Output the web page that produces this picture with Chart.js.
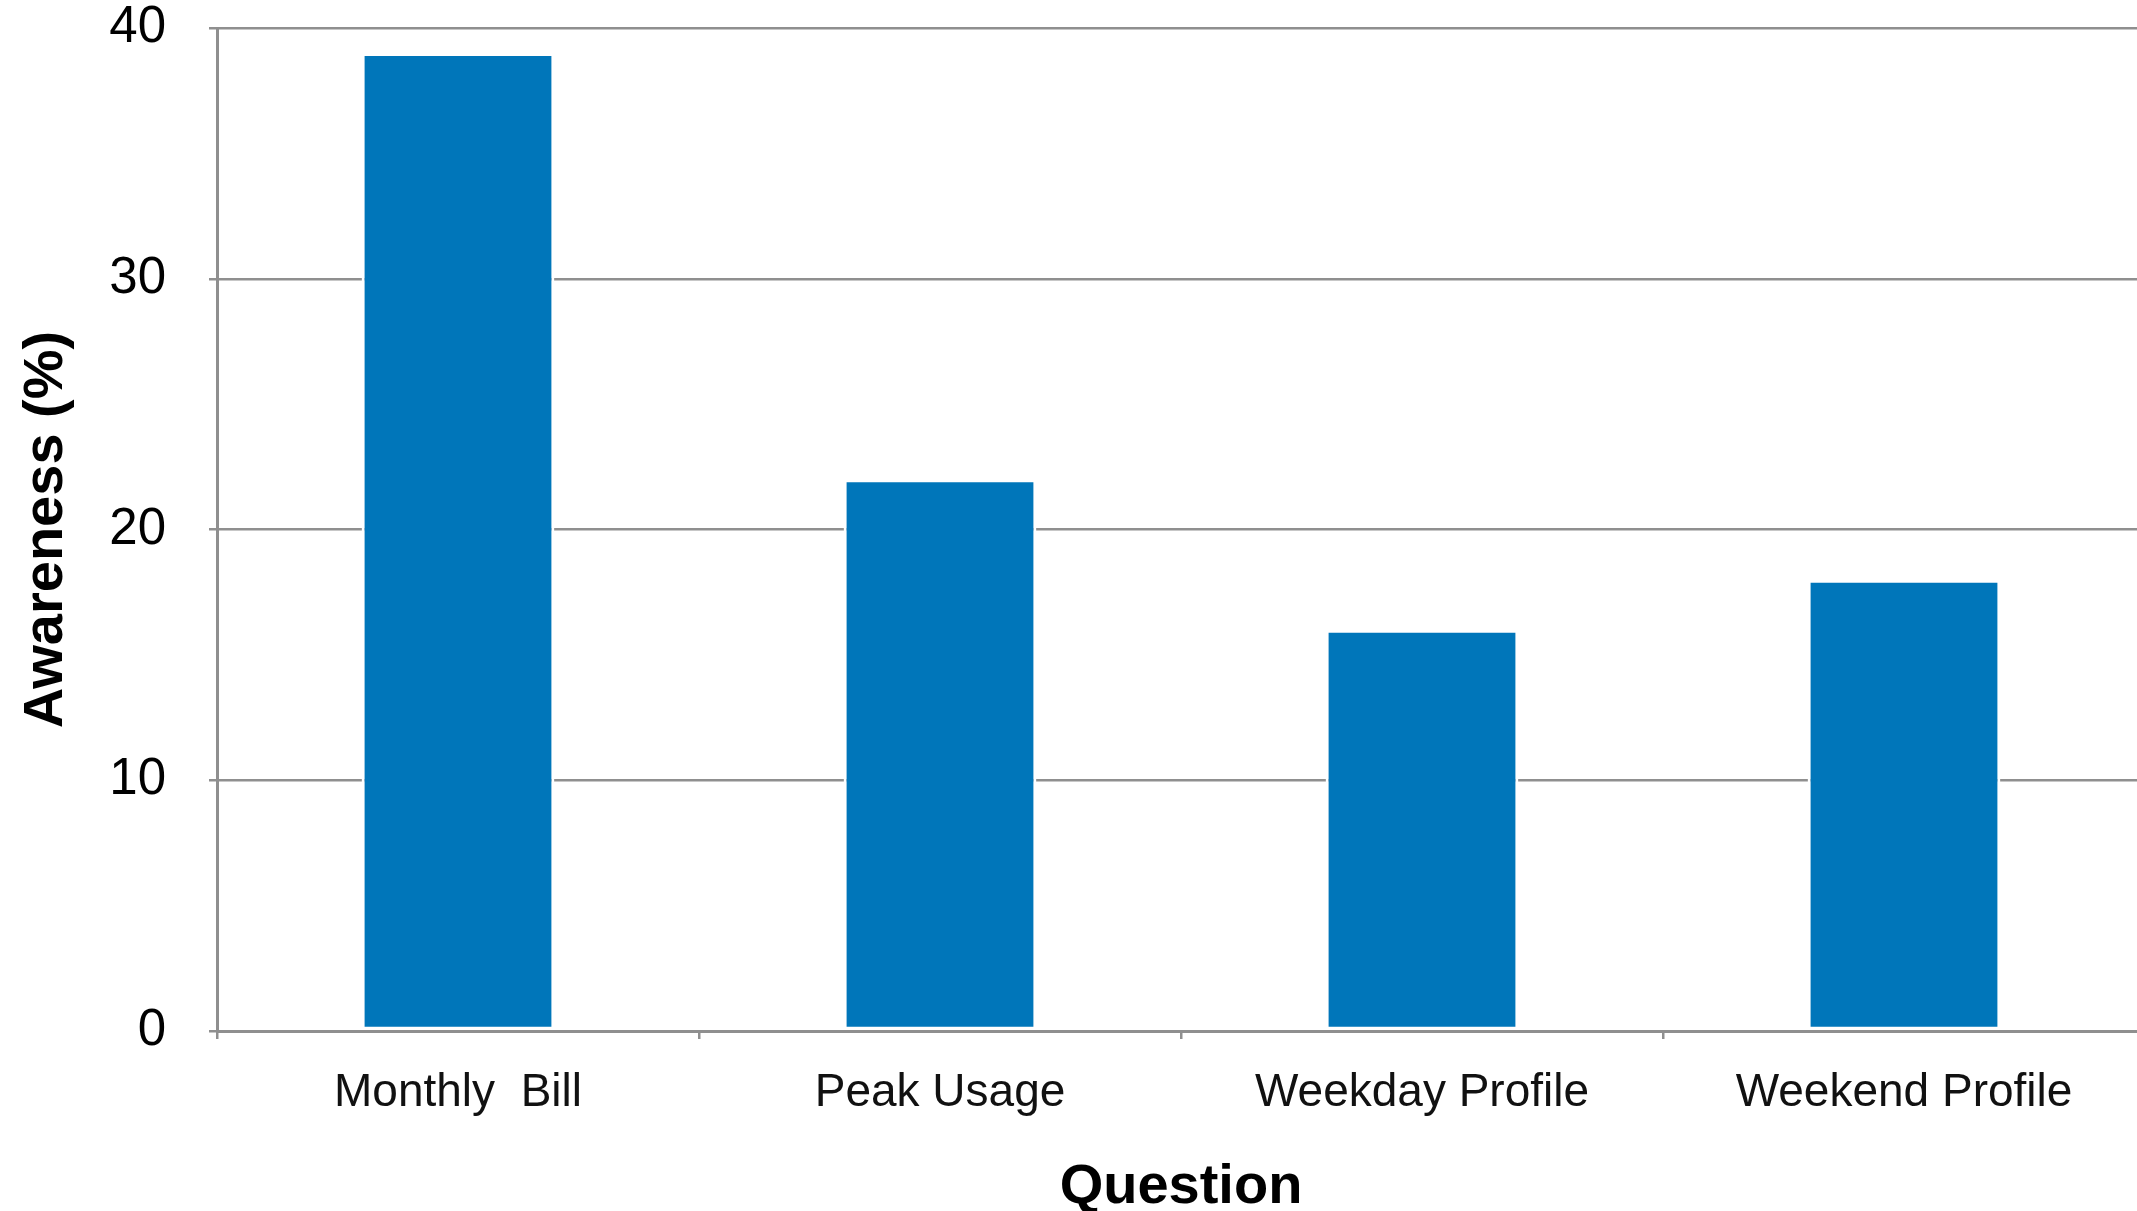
<!DOCTYPE html>
<html>
<head>
<meta charset="utf-8">
<title>Awareness by question</title>
<script src="https://cdn.jsdelivr.net/npm/chart.js@4/dist/chart.umd.min.js"></script>
<style>
  html, body { margin: 0; padding: 0; background: #fff; overflow: hidden; }
  #wrap { width: 2145px; height: 1211px; }
</style>
</head>
<body>
<div id="wrap"><canvas id="awareness" width="2145" height="1211"></canvas></div>
<script>
  // Data
  const categories = ["Monthly  Bill", "Peak Usage", "Weekday Profile", "Weekend Profile"];
  const awareness = [39, 22, 16, 18];
  const yMin = 0, yMax = 40, yStep = 10;

  const FONT = '"Liberation Sans", Arial, Helvetica, sans-serif';
  const GRID = "#8f8f8f";

  new Chart(document.getElementById("awareness"), {
    type: "bar",
    data: {
      labels: categories,
      datasets: [{
        label: "Awareness (%)",
        data: awareness,
        backgroundColor: "#0076ba",
        borderColor: "#ffffff",
        borderWidth: 3,
        borderSkipped: false,
        barPercentage: 1,
        categoryPercentage: 0.4
      }]
    },
    options: {
      responsive: false,
      animation: false,
      layout: { padding: 0 },
      plugins: {
        legend: { display: false },
        tooltip: { enabled: false }
      },
      scales: {
        x: {
          grid: { drawOnChartArea: false, drawTicks: true, tickLength: 8, color: GRID, lineWidth: 2.5 },
          border: { display: true, color: GRID, width: 3 },
          ticks: { color: "#111", padding: 27, font: { family: FONT, size: 46 } },
          title: {
            display: true, text: "Question", color: "#000",
            padding: { top: 0, bottom: 0 },
            font: { family: FONT, size: 56, weight: "bold", lineHeight: 0.85 }
          },
          afterFit: (scale) => { scale.height = 180; }
        },
        y: {
          min: yMin, max: yMax,
          grid: { drawTicks: true, tickLength: 8, color: GRID, lineWidth: 2.5 },
          border: { display: true, color: GRID, width: 3 },
          ticks: { stepSize: yStep, color: "#000", padding: 43, font: { family: FONT, size: 51, lineHeight: 1.1 } },
          title: {
            display: true, text: "Awareness (%)", color: "#000",
            padding: { top: 19, bottom: 0 },
            font: { family: FONT, size: 56, weight: "bold", lineHeight: 1 }
          },
          afterFit: (scale) => {
            // keep the plot top close to the canvas edge; tick padding only applies sideways
            scale.width = 217;
            scale.paddingTop = 28;
            scale.paddingBottom = 0;
          }
        }
      }
    }
  });
</script>
</body>
</html>
